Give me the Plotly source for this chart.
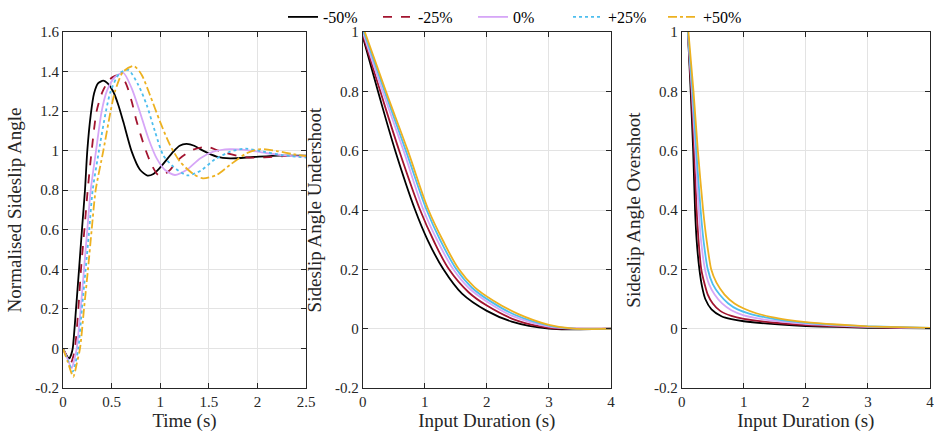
import plotly.graph_objects as go

# ---------------- data ----------------
series_labels = ["-50%", "-25%", "0%", "+25%", "+50%"]
series_colors = ["#000000", "#A2142F", "#D6A6F7", "#4DBEEE", "#EDB120"]
series_dashes = ["solid", "dash", "solid", "dot", "dashdot"]

# Panel 1: normalised sideslip angle vs time (s)
time_m50 = [0, 0.03, 0.065, 0.085, 0.1, 0.134, 0.165, 0.195, 0.226, 0.25, 0.285, 0.32, 0.36, 0.415, 0.46, 0.518, 0.57, 0.62, 0.707, 0.79, 0.868, 0.93, 1.0, 1.135, 1.2, 1.27, 1.35, 1.44, 1.58, 1.72, 1.96, 2.23, 2.5]
beta_m50 = [0, -0.03, -0.05, -0.03, 0.0, 0.2, 0.4, 0.6, 0.8, 1.0, 1.18, 1.29, 1.34, 1.354, 1.34, 1.298, 1.23, 1.147, 0.995, 0.905, 0.874, 0.882, 0.915, 0.995, 1.025, 1.034, 1.025, 1.0, 0.97, 0.961, 0.968, 0.975, 0.975]

time_m25 = [0, 0.04, 0.079, 0.1, 0.123, 0.158, 0.185, 0.22, 0.254, 0.295, 0.346, 0.408, 0.48, 0.56, 0.638, 0.707, 0.758, 0.844, 0.912, 0.98, 1.04, 1.1, 1.2, 1.34, 1.48, 1.6, 1.684, 1.89, 2.06, 2.27, 2.5]
beta_m25 = [0, -0.04, -0.075, -0.05, 0.0, 0.2, 0.4, 0.6, 0.8, 1.0, 1.2, 1.3, 1.36, 1.38, 1.349, 1.248, 1.147, 1.012, 0.928, 0.877, 0.88, 0.902, 0.96, 1.005, 1.02, 1.0, 0.987, 0.966, 0.966, 0.972, 0.972]

time_0 = [0, 0.045, 0.089, 0.115, 0.141, 0.182, 0.216, 0.25, 0.285, 0.34, 0.398, 0.45, 0.53, 0.62, 0.707, 0.79, 0.878, 0.964, 1.05, 1.152, 1.27, 1.41, 1.546, 1.718, 1.89, 2.1, 2.3, 2.5]
beta_0 = [0, -0.05, -0.1, -0.06, 0.0, 0.2, 0.4, 0.6, 0.8, 1.0, 1.2, 1.3, 1.37, 1.394, 1.315, 1.197, 1.063, 0.961, 0.902, 0.877, 0.902, 0.961, 0.995, 1.008, 1.003, 0.987, 0.975, 0.97]

time_p25 = [0, 0.05, 0.1, 0.13, 0.158, 0.195, 0.233, 0.27, 0.305, 0.37, 0.442, 0.49, 0.58, 0.672, 0.775, 0.861, 0.947, 1.03, 1.135, 1.28, 1.42, 1.56, 1.72, 1.88, 2.06, 2.25, 2.5]
beta_p25 = [0, -0.06, -0.117, -0.07, 0.0, 0.2, 0.4, 0.6, 0.8, 1.0, 1.2, 1.3, 1.39, 1.408, 1.332, 1.231, 1.096, 0.978, 0.919, 0.875, 0.9, 0.955, 0.995, 1.01, 0.995, 0.978, 0.965]

time_p50 = [0, 0.05, 0.106, 0.14, 0.175, 0.216, 0.257, 0.295, 0.336, 0.415, 0.49, 0.535, 0.62, 0.73, 0.81, 0.895, 0.998, 1.1, 1.204, 1.34, 1.44, 1.58, 1.718, 1.89, 2.03, 2.2, 2.37, 2.5]
beta_p50 = [0, -0.07, -0.143, -0.08, 0.0, 0.2, 0.4, 0.6, 0.8, 1.0, 1.2, 1.3, 1.4, 1.428, 1.383, 1.281, 1.147, 1.029, 0.944, 0.882, 0.86, 0.877, 0.928, 0.987, 1.008, 0.998, 0.982, 0.972]

# Panel 2: sideslip angle undershoot vs input duration (s)
dur_under_m50 = [0, 0.246, 0.524, 0.845, 1.05, 1.3, 1.6, 2.0, 2.4, 3.0, 3.5, 4.0]
under_m50 = [0.985, 0.8, 0.6, 0.4, 0.297, 0.2, 0.118, 0.06, 0.024, 0.0, -0.002, 0.0]
dur_under_m25 = [0, 0.283, 0.588, 0.925, 1.14, 1.39, 1.71, 2.0, 2.5, 3.0, 3.5, 4.0]
under_m25 = [0.99, 0.8, 0.6, 0.4, 0.298, 0.2, 0.122, 0.078, 0.026, 0.003, 0.0, 0.0]
dur_under_0 = [0, 0.32, 0.658, 0.979, 1.2, 1.46, 1.71, 2.01, 2.41, 3.0, 3.5, 4.0]
under_0 = [1.0, 0.8, 0.6, 0.4, 0.298, 0.2, 0.137, 0.09, 0.043, 0.007, 0.0, 0.0]
dur_under_p25 = [0, 0.353, 0.695, 1.03, 1.25, 1.51, 1.76, 2.06, 2.46, 3.0, 3.4, 4.0]
under_p25 = [1.01, 0.8, 0.6, 0.4, 0.298, 0.2, 0.138, 0.092, 0.046, 0.01, 0.0, 0.0]
dur_under_p50 = [0, 0.374, 0.727, 1.06, 1.29, 1.55, 1.8, 2.1, 2.5, 3.0, 3.4, 4.0]
under_p50 = [1.02, 0.8, 0.6, 0.4, 0.298, 0.2, 0.14, 0.095, 0.05, 0.013, 0.0, 0.0]

# Panel 3: sideslip angle overshoot vs input duration (s)
dur_over_m50 = [0.1, 0.145, 0.185, 0.215, 0.24, 0.285, 0.33, 0.38, 0.48, 0.64, 0.8, 1.0, 1.5, 2.0, 2.5, 3.0, 3.5, 4.0]
over_m50 = [1.0, 0.8, 0.6, 0.4, 0.3, 0.2, 0.14, 0.1, 0.065, 0.042, 0.032, 0.025, 0.015, 0.009, 0.006, 0.003, 0.002, 0.001]
dur_over_m25 = [0.1, 0.155, 0.2, 0.24, 0.27, 0.315, 0.37, 0.42, 0.5, 0.62, 0.8, 1.0, 1.5, 2.0, 2.5, 3.0, 3.5, 4.0]
over_m25 = [1.0, 0.8, 0.6, 0.4, 0.3, 0.2, 0.15, 0.115, 0.085, 0.06, 0.043, 0.033, 0.02, 0.012, 0.008, 0.005, 0.003, 0.002]
dur_over_0 = [0.1, 0.165, 0.22, 0.275, 0.31, 0.375, 0.44, 0.53, 0.65, 0.8, 1.0, 1.25, 1.5, 2.0, 2.5, 3.0, 3.5, 4.0]
over_0 = [1.0, 0.8, 0.6, 0.4, 0.3, 0.2, 0.15, 0.115, 0.085, 0.062, 0.045, 0.034, 0.026, 0.016, 0.01, 0.006, 0.004, 0.002]
dur_over_p25 = [0.1, 0.175, 0.235, 0.305, 0.35, 0.42, 0.5, 0.61, 0.75, 0.9, 1.1, 1.35, 1.6, 2.0, 2.5, 3.0, 3.5, 4.0]
over_p25 = [1.0, 0.8, 0.6, 0.4, 0.3, 0.2, 0.15, 0.115, 0.085, 0.065, 0.05, 0.038, 0.029, 0.02, 0.013, 0.008, 0.005, 0.003]
dur_over_p50 = [0.1, 0.19, 0.26, 0.345, 0.4, 0.475, 0.56, 0.69, 0.85, 1.0, 1.2, 1.45, 1.7, 2.0, 2.5, 3.0, 3.5, 4.0]
over_p50 = [1.02, 0.8, 0.6, 0.4, 0.3, 0.2, 0.155, 0.115, 0.085, 0.068, 0.052, 0.039, 0.03, 0.022, 0.014, 0.008, 0.005, 0.003]

# tick labels
p1_xticks = [0, 0.5, 1, 1.5, 2, 2.5]
p1_xtext = ["0", "0.5", "1", "1.5", "2", "2.5"]
p1_yticks = [-0.2, 0, 0.2, 0.4, 0.6, 0.8, 1.0, 1.2, 1.4, 1.6]
p1_ytext = ["-0.2", "0", "0.2", "0.4", "0.6", "0.8", "1", "1.2", "1.4", "1.6"]
p23_xticks = [0, 1, 2, 3, 4]
p23_xtext = ["0", "1", "2", "3", "4"]
p23_yticks = [-0.2, 0, 0.2, 0.4, 0.6, 0.8, 1.0]
p23_ytext = ["-0.2", "0", "0.2", "0.4", "0.6", "0.8", "1"]

# ---------------- figure ----------------
FONT = "Liberation Serif"
fig = go.Figure()

p1 = [(time_m50, beta_m50), (time_m25, beta_m25), (time_0, beta_0), (time_p25, beta_p25), (time_p50, beta_p50)]
p2 = [(dur_under_m50, under_m50), (dur_under_m25, under_m25), (dur_under_0, under_0), (dur_under_p25, under_p25), (dur_under_p50, under_p50)]
p3 = [(dur_over_m50, over_m50), (dur_over_m25, over_m25), (dur_over_0, over_0), (dur_over_p25, over_p25), (dur_over_p50, over_p50)]

for i in range(5):
    fig.add_trace(go.Scatter(x=p1[i][0], y=p1[i][1], mode="lines", name=series_labels[i],
                             line=dict(color=series_colors[i], dash=series_dashes[i], width=1.8,
                                       shape="spline", smoothing=0.7),
                             xaxis="x", yaxis="y", showlegend=True))
for i in range(5):
    fig.add_trace(go.Scatter(x=p2[i][0], y=p2[i][1], mode="lines", name=series_labels[i],
                             line=dict(color=series_colors[i], width=1.8, shape="spline", smoothing=1.0),
                             xaxis="x2", yaxis="y2", showlegend=False))
for i in range(5):
    fig.add_trace(go.Scatter(x=p3[i][0], y=p3[i][1], mode="lines", name=series_labels[i],
                             line=dict(color=series_colors[i], width=1.8, shape="spline", smoothing=0.6),
                             xaxis="x3", yaxis="y3", showlegend=False))

axis_common = dict(showline=True, linecolor="#262626", linewidth=1, mirror="ticks",
                   ticks="inside", ticklen=5, tickcolor="#262626", tickwidth=1,
                   showgrid=True, gridcolor="#e3e3e3", gridwidth=1, zeroline=False,
                   tickfont=dict(family=FONT, size=15, color="#262626"),
                   ticklabeloverflow="allow", automargin=False)
title_font = dict(family=FONT, size=19, color="#262626")

W, H = 934, 437
ydom = [(437 - 388) / H, (437 - 32) / H]

fig.update_layout(
    width=W, height=H,
    margin=dict(l=0, r=0, t=0, b=0),
    paper_bgcolor="white", plot_bgcolor="white",
    font=dict(family=FONT, color="#262626"),
    xaxis=dict(domain=[63 / W, 306 / W], range=[0, 2.5], anchor="y",
               tickvals=p1_xticks, ticktext=p1_xtext,
               title=dict(text="Time (s)", font=title_font, standoff=4), **axis_common),
    yaxis=dict(domain=ydom, range=[-0.2, 1.6], anchor="x",
               tickvals=p1_yticks, ticktext=p1_ytext,
               title=dict(text="Normalised Sideslip Angle", font=title_font, standoff=8), **axis_common),
    xaxis2=dict(domain=[362.7 / W, 611 / W], range=[0, 4], anchor="y2",
                tickvals=p23_xticks, ticktext=p23_xtext,
                title=dict(text="Input Duration (s)", font=title_font, standoff=4), **axis_common),
    yaxis2=dict(domain=ydom, range=[-0.2, 1.0], anchor="x2",
                tickvals=p23_yticks, ticktext=p23_ytext,
                title=dict(text="Sideslip Angle Undershoot", font=title_font, standoff=8), **axis_common),
    xaxis3=dict(domain=[681.7 / W, 930 / W], range=[0, 4], anchor="y3",
                tickvals=p23_xticks, ticktext=p23_xtext,
                title=dict(text="Input Duration (s)", font=title_font, standoff=4), **axis_common),
    yaxis3=dict(domain=ydom, range=[-0.2, 1.0], anchor="x3",
                tickvals=p23_yticks, ticktext=p23_ytext,
                title=dict(text="Sideslip Angle Overshoot", font=title_font, standoff=8), **axis_common),
    legend=dict(orientation="h", x=0.303, y=1.0, xanchor="left", yanchor="top",
                font=dict(family=FONT, size=16, color="#000000"),
                bgcolor="rgba(255,255,255,0)", entrywidth=50, entrywidthmode="pixels",
                tracegroupgap=0, itemwidth=30),
    showlegend=True,
)

fig.write_html("out.html")
